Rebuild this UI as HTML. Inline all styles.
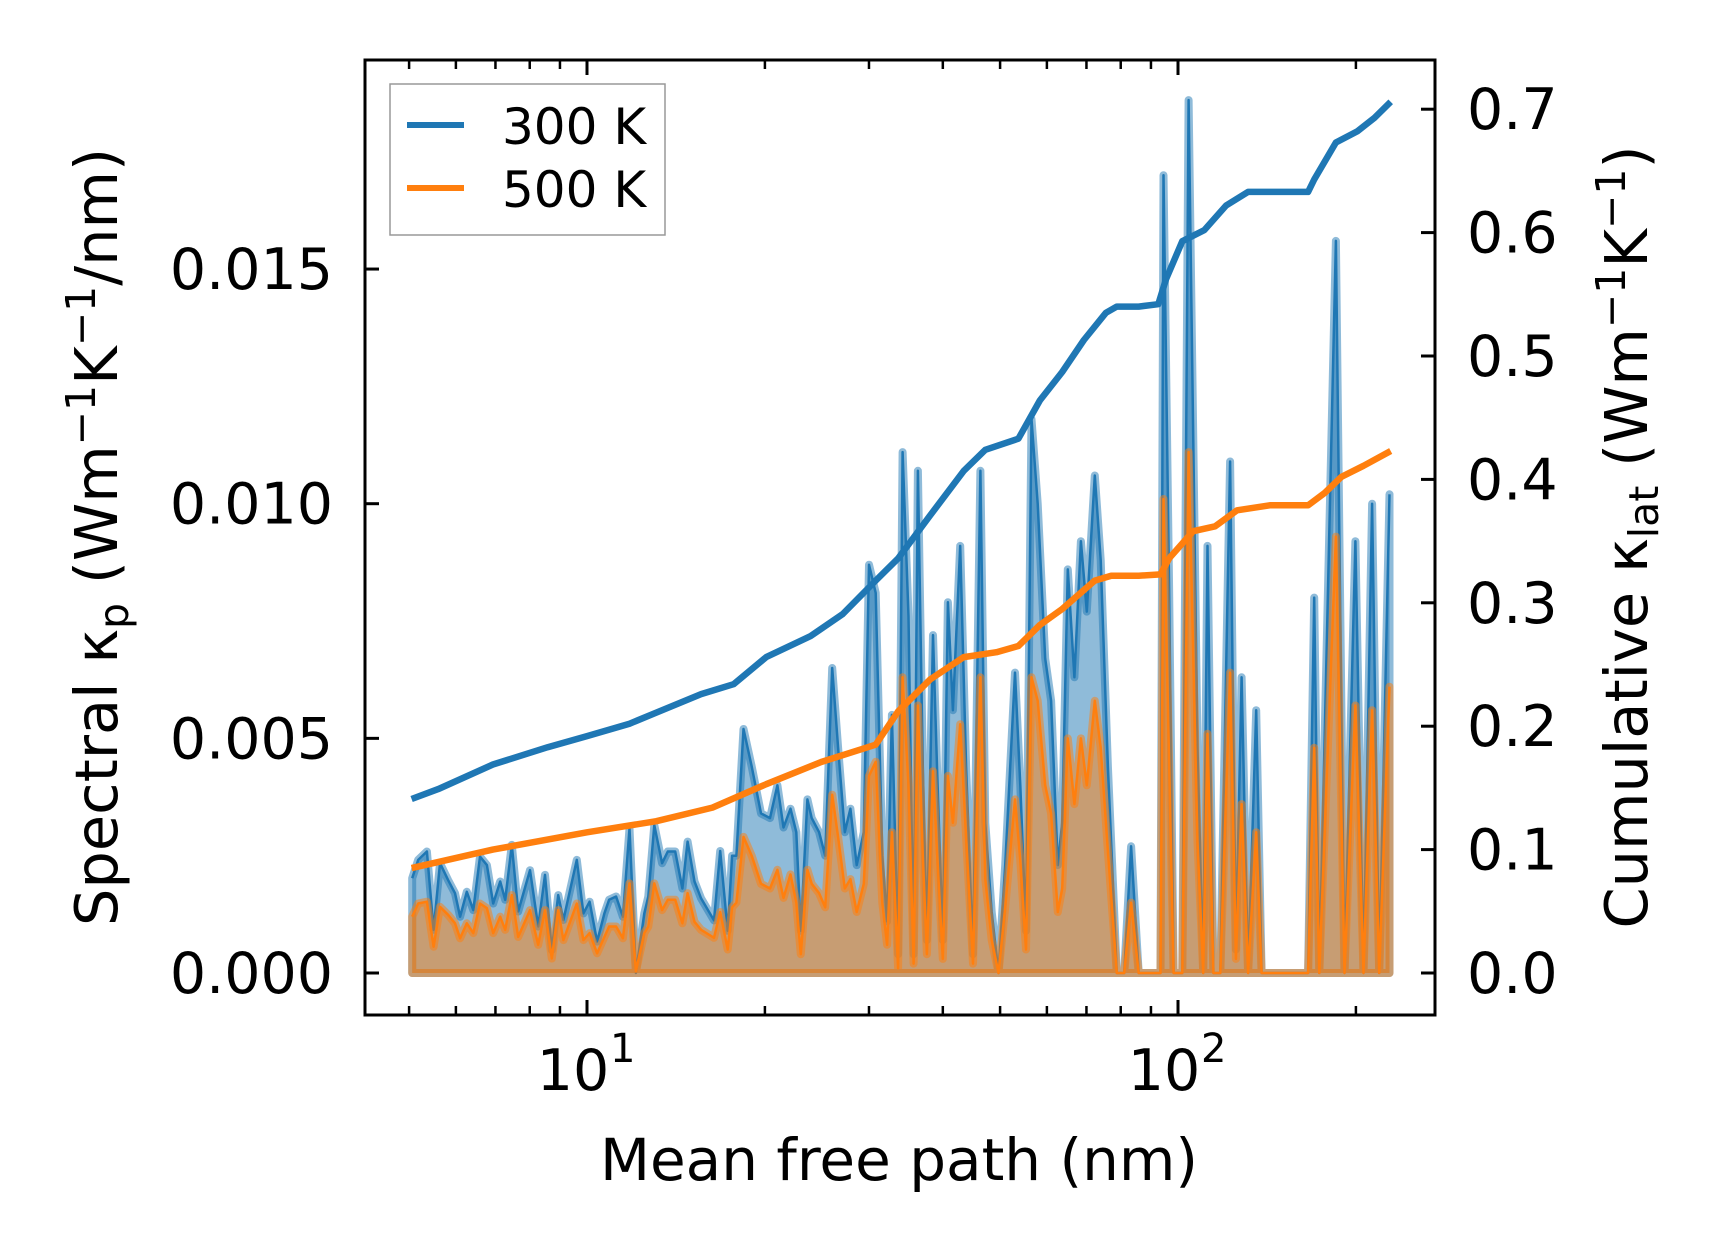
<!DOCTYPE html>
<html><head><meta charset="utf-8"><style>
html,body{margin:0;padding:0;background:#fff;}
svg{display:block;font-family:"DejaVu Sans","Liberation Sans",sans-serif;}
</style></head><body>
<svg id="chart" width="1716" height="1254" viewBox="0 0 1716 1254" xmlns="http://www.w3.org/2000/svg">
<rect width="1716" height="1254" fill="#fff"/>
<g id="marks"></g>
<g id="axes"></g>
<g>
<rect x="390" y="84" width="275" height="151" fill="#fff" fill-opacity="0.8" stroke="#999" stroke-width="1.5"/>
<line x1="407" y1="125" x2="464" y2="125" stroke="#1f77b4" stroke-width="6"/>
<text x="502" y="144" font-size="50">300 K</text>
<line x1="407" y1="188" x2="464" y2="188" stroke="#ff7f0e" stroke-width="6"/>
<text x="502" y="207" font-size="50">500 K</text>
</g>
<text x="899" y="1180" font-size="58" text-anchor="middle">Mean free path (nm)</text>
<text transform="translate(117,537) rotate(-90)" font-size="59" text-anchor="middle">Spectral κ<tspan font-size="41" dy="11">p</tspan><tspan dy="-11"> (Wm</tspan><tspan font-size="41" dy="-22">−1</tspan><tspan dy="22">K</tspan><tspan font-size="41" dy="-22">−1</tspan><tspan dy="22">/nm)</tspan></text>
<text transform="translate(1647,537) rotate(-90)" font-size="59" text-anchor="middle">Cumulative κ<tspan font-size="41" dy="11">lat</tspan><tspan dy="-11"> (Wm</tspan><tspan font-size="41" dy="-22">−1</tspan><tspan dy="22">K</tspan><tspan font-size="41" dy="-22">−1</tspan><tspan dy="22">)</tspan></text>
</svg>
<script>
// spectral data (x in nm, y in 1e-3 W m^-1 K^-1 / nm)
const mfp = [5.06,5.18,5.36,5.50,5.64,5.82,5.98,6.10,6.26,6.42,6.59,6.77,6.94,7.13,7.27,7.46,7.65,8.01,8.27,8.49,8.72,8.94,9.12,9.61,9.86,10.1,10.4,10.7,10.9,11.2,11.5,11.8,12.1,12.5,12.7,13.0,13.4,13.7,14.1,14.5,14.8,15.2,15.6,
16.4,16.8,17.3,17.6,17.9,18.4,19.0,19.7,20.4,21.0,21.5,22.1,22.6,23.0,23.6,24.0,24.7,25.3,26.0,26.6,27.3,27.9,28.6,29.4,30.0,30.8,31.6,32.2,32.8,33.6,34.2,35.0,35.7,36.3,37.0,37.6,38.5,39.1,40.0,40.8,41.6,42.8,43.8,45.0,46.3,47.2,48.4,49.7,51.0,53.0,54.1,55.3,56.5,57.9,59.6,61.0,62.6,63.7,65.1,66.8,68.5,70.1,72.3,74.0,76.1,78.8,81.1,83.3,85.8,93.4,94.5,96.6,98.3,101.7,104.2,107.9,110.3,112.2,114.8,117.9,122.5,125.3,128.1,131.4,135.6,138.5,166,170,173.4,185,191.3,199.6,206,213,219,228];
const spec300 = [2.02,2.41,2.59,0.92,2.34,1.98,1.70,1.20,1.73,1.34,2.48,2.30,1.48,1.95,1.56,2.73,1.31,2.19,0.99,2.09,0.49,1.66,1.13,2.41,1.27,1.52,0.67,1.27,1.56,1.63,1.20,3.08,0,1.27,1.63,3.15,2.34,2.59,2.59,1.80,2.80,1.95,1.59,
1.12,2.6,0.9,2.5,2.5,5.2,4.4,3.4,3.3,4.0,3.1,3.5,3.0,0.9,3.7,3.3,3.0,2.5,6.5,4.8,3.0,3.5,2.3,3.0,8.7,8.1,2.5,1.1,5.5,0.4,11.1,7.6,0.4,10.7,4.4,0.7,7.2,4.4,0.7,7.9,5.6,9.1,4.4,0.4,10.7,3.2,1.3,0,2.3,6.4,4.0,0.9,11.8,10.0,6.7,5.8,2.3,3.2,8.6,6.3,9.2,7.7,10.6,8.8,4.4,0,0,2.7,0,0,17.0,8.2,0,0,18.6,4.8,0,9.1,0,0,10.9,0.5,6.3,0,5.6,0,0,8.0,0,15.6,0,9.2,0,10.0,0,10.2];
const spec500 = [1.20,1.48,1.52,0.56,1.41,1.24,1.06,0.74,1.06,0.85,1.48,1.38,0.85,1.20,0.92,1.66,0.77,1.34,0.60,1.34,0.31,1.34,0.70,1.48,0.70,0.85,0.42,0.77,0.99,0.99,0.74,1.91,0.04,0.85,0.99,1.91,1.34,1.56,1.56,1.06,1.70,1.09,0.92,
0.75,1.3,0.5,1.4,1.5,2.9,2.5,1.9,1.8,2.2,1.6,2.1,1.5,0.4,2.2,1.9,1.7,1.4,3.8,2.9,1.8,2.0,1.3,1.9,4.2,4.5,1.5,0.6,3.0,0.1,6.3,4.0,0.2,5.7,2.5,0.4,4.3,2.6,0.3,4.2,3.2,5.3,2.9,0.2,6.3,2.0,0.7,0,1.4,3.7,2.4,0.5,6.3,5.8,4.0,3.4,1.3,1.8,5.0,3.6,5.0,4.0,5.8,4.8,2.6,0,0,1.5,0,0,10.1,4.5,0,0,11.1,2.8,0,5.1,0,0,6.4,0.3,3.6,0,3.0,0,0,4.8,0,9.3,0,5.7,0,5.6,0,6.1];
// cumulative data
const cumX300 = [5.05,5.6,6.93,8.58,10,11.8,13.1,15.6,17.7,20.1,23.9,27.1,30.8,33.6,38.1,43.4,47.2,53.7,58.4,63.7,69.3,75.5,78.8,85.8,92.6,95.4,101.7,110.8,120.6,131.4,140,166,170,185,201,215,229];
const cum300 = [0.141,0.149,0.169,0.183,0.192,0.202,0.211,0.226,0.234,0.256,0.273,0.291,0.318,0.336,0.371,0.407,0.424,0.433,0.464,0.487,0.513,0.535,0.540,0.540,0.542,0.562,0.593,0.602,0.622,0.633,0.633,0.633,0.643,0.673,0.682,0.693,0.706];
const cumX500 = [5.05,6.93,10,13.1,16.3,20.1,24.9,30.8,33.6,38.1,43.4,49.3,53.7,58.4,63.7,72.3,77.1,85.8,93.4,96.6,106.1,115.6,125.9,143,166,177,189,206,229];
const cum500 = [0.085,0.100,0.114,0.123,0.134,0.153,0.171,0.185,0.212,0.238,0.256,0.260,0.265,0.282,0.295,0.318,0.322,0.322,0.323,0.336,0.358,0.362,0.375,0.379,0.379,0.389,0.402,0.411,0.423];
const leftTicks = [0,5,10,15];
const leftTickLabels = ["0.000","0.005","0.010","0.015"];
const rightTicks = [0,0.1,0.2,0.3,0.4,0.5,0.6,0.7];
const rightTickLabels = ["0.0","0.1","0.2","0.3","0.4","0.5","0.6","0.7"];

const NS="http://www.w3.org/2000/svg";
const L=365,R=1435,T=60,B=1015;
function xs(v){return 587+591*(Math.log10(v)-1);}
function yl(v){return 973-v*46.93;}
function yr(v){return 973-v*1234;}
function mk(tag,attrs,parent){const e=document.createElementNS(NS,tag);for(const k in attrs)e.setAttribute(k,attrs[k]);parent.appendChild(e);return e;}
const marks=document.getElementById('marks'), axes=document.getElementById('axes');

function spectral(vals,color,name){
  let pts=mfp.map((x,i)=>xs(x).toFixed(1)+','+yl(vals[i]).toFixed(1));
  let d='M'+xs(mfp[0]).toFixed(1)+','+yl(0)+' L'+pts.join(' L')+' L'+xs(mfp[mfp.length-1]).toFixed(1)+','+yl(0)+' Z';
  const f=mk('path',{d:d,fill:color,'fill-opacity':0.5,stroke:color,'stroke-opacity':0.5,'stroke-width':8,'stroke-linejoin':'round'},marks);
  
  
  const l=mk('polyline',{points:pts.join(' '),fill:'none',stroke:color,'stroke-width':2.5,'stroke-linejoin':'round'},marks);
  
  
}
spectral(spec300,'#1f77b4','spectral-300k');
spectral(spec500,'#ff7f0e','spectral-500k');
function cum(xa,ya,color,name){
  const pts=xa.map((x,i)=>xs(x).toFixed(1)+','+yr(ya[i]).toFixed(1)).join(' ');
  const l=mk('polyline',{points:pts,fill:'none',stroke:color,'stroke-width':6.5,'stroke-linejoin':'round'},marks);
  
  
}
cum(cumX300,cum300,'#1f77b4','cumulative-300k');
cum(cumX500,cum500,'#ff7f0e','cumulative-500k');

// spines
const sp=mk('rect',{x:L,y:T,width:R-L,height:B-T,fill:'none',stroke:'#000','stroke-width':3},axes);


leftTicks.forEach((v,i)=>{
  const y=yl(v);
  const t=mk('line',{x1:L,y1:y,x2:L+14,y2:y,stroke:'#000','stroke-width':3},axes);
  
  
  const tx=mk('text',{x:L-32,y:y+20,'font-size':57,'text-anchor':'end'},axes);
  tx.textContent=leftTickLabels[i];
  
  
});
rightTicks.forEach((v,i)=>{
  const y=yr(v);
  const t=mk('line',{x1:R-14,y1:y,x2:R,y2:y,stroke:'#000','stroke-width':3},axes);
  
  
  const tx=mk('text',{x:R+32,y:y+20,'font-size':57,'text-anchor':'start'},axes);
  tx.textContent=rightTickLabels[i];
  
  
});
const minor=[5,6,7,8,9,20,30,40,50,60,70,80,90,200];
minor.forEach(v=>{const x=xs(v);
  [[B,B-9],[T,T+9]].forEach(p=>{const t=mk('line',{x1:x,y1:p[0],x2:x,y2:p[1],stroke:'#000','stroke-width':2.5},axes);
  
  });
});
[[10,'1'],[100,'2']].forEach(m=>{const x=xs(m[0]);
  [[B,B-15],[T,T+15]].forEach(p=>{const t=mk('line',{x1:x,y1:p[0],x2:x,y2:p[1],stroke:'#000','stroke-width':3},axes);
  
  });
  const tx=mk('text',{x:x-14,y:1090,'font-size':57,'text-anchor':'middle'},axes);
  tx.textContent='10';
  
  
  const sup=mk('text',{x:x+23,y:1062,'font-size':40,'text-anchor':'start'},axes);
  sup.textContent=m[1];
  
  
});
</script>
</body></html>
